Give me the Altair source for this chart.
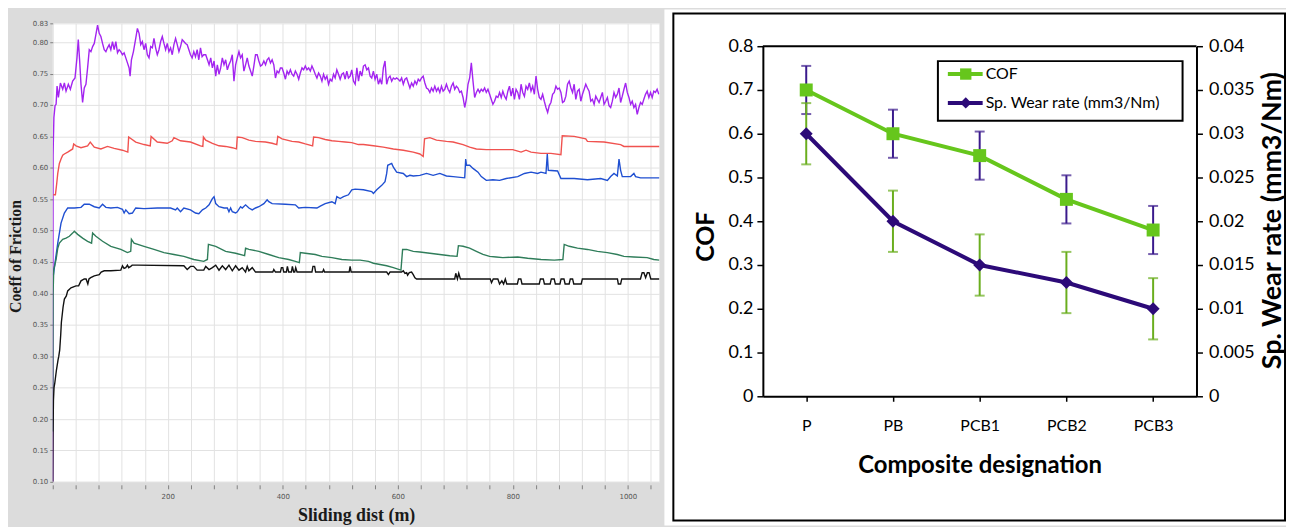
import altair as alt
import pandas as pd

# ---------------- Left panel: COF vs sliding distance ----------------
purple_dist = [
    0, 0.5, 2.0, 4.0, 5.8, 7.5, 9.8, 13.3, 17.3, 20.2,
    23.1, 27.1, 30.6, 34.6, 38.7, 42.1, 44.4, 46.8, 49.1, 51.9,
    54.8, 57.7, 60.6, 63.5, 66.4, 69.3, 72.2, 75.0, 77.9, 80.8,
    83.7, 86.6, 89.5, 92.4, 95.2, 98.1, 101.0, 103.9, 106.8, 109.7,
    112.6, 115.4, 118.3, 121.2, 124.1, 127.0, 129.9, 132.8, 134.5, 136.8,
    140.3, 144.3, 147.2, 150.1, 153.0, 155.8, 158.7, 161.6, 164.5, 167.4,
    170.3, 173.2, 176.0, 178.9, 181.8, 184.7, 187.6, 190.5, 193.4, 196.3,
    199.1, 202.0, 204.9, 207.8, 210.7, 213.6, 216.5, 219.4, 222.2, 225.1,
    228.0, 230.9, 233.8, 236.7, 239.5, 242.4, 245.3, 248.2, 251.1, 254.0,
    256.9, 259.7, 262.5, 266.0, 269.0, 271.8, 274.7, 277.6, 280.5, 283.4,
    286.2, 289.1, 292.0, 294.9, 297.8, 300.7, 303.6, 306.4, 309.3, 312.2,
    315.1, 318.0, 320.9, 323.8, 326.6, 329.5, 332.4, 335.3, 338.2, 341.1,
    344.0, 346.9, 349.7, 352.6, 355.5, 358.4, 361.3, 364.2, 367.1, 370.0,
    372.8, 375.7, 378.6, 381.5, 384.4, 387.3, 390.1, 393.0, 395.9, 398.8,
    401.7, 404.6, 407.5, 410.3, 413.2, 416.1, 419.0, 421.9, 424.8, 427.7,
    430.5, 433.4, 436.3, 439.2, 442.1, 445.0, 447.9, 450.7, 453.6, 456.5,
    459.4, 462.3, 465.2, 468.1, 470.9, 473.8, 476.7, 479.6, 482.5, 485.4,
    488.3, 491.1, 494.0, 496.9, 499.8, 502.7, 505.6, 508.5, 511.3, 514.2,
    517.1, 520.0, 522.9, 525.9, 528.8, 531.7, 534.5, 537.4, 540.3, 543.2,
    546.1, 549.0, 551.9, 554.7, 557.6, 560.5, 563.4, 566.3, 569.2, 572.1,
    574.9, 577.8, 580.7, 583.6, 586.5, 589.4, 592.3, 595.2, 598.0, 600.9,
    603.8, 606.7, 609.6, 612.5, 615.4, 618.2, 621.1, 624.0, 626.9, 629.8,
    632.7, 635.6, 638.4, 641.3, 644.2, 647.1, 650.0, 652.9, 655.8, 658.6,
    661.5, 664.4, 667.3, 670.2, 673.1, 676.0, 678.8, 681.7, 684.6, 687.5,
    690.4, 693.3, 696.2, 699.0, 701.9, 704.8, 707.7, 710.6, 713.5, 716.4,
    719.2, 722.1, 725.0, 727.9, 730.8, 733.7, 736.6, 739.5, 742.3, 745.2,
    748.1, 751.0, 753.9, 756.8, 759.7, 762.5, 765.4, 768.3, 771.2, 774.1,
    777.0, 779.9, 782.7, 785.6, 788.5, 791.4, 794.2, 797.1, 800.0, 802.8,
    805.7, 808.6, 811.5, 814.4, 817.3, 820.2, 823.0, 825.9, 828.8, 831.7,
    834.6, 837.5, 840.4, 843.2, 846.1, 849.0, 851.9, 854.8, 857.7, 860.6,
    863.4, 866.3, 869.2, 872.1, 875.0, 877.9, 880.8, 883.7, 886.5, 889.4,
    892.3, 895.2, 898.1, 901.0, 903.9, 906.7, 909.6, 912.5, 915.4, 918.3,
    921.2, 924.1, 926.9, 929.8, 932.7, 935.6, 938.5, 941.4, 944.3, 947.1,
    950.0, 952.9, 955.8, 958.7, 961.6, 964.5, 967.3, 970.2, 973.1, 976.0,
    978.9, 981.8, 984.7, 987.5, 990.4, 993.3, 996.2, 999.1, 1002.0, 1004.9,
    1007.7, 1010.6, 1013.5, 1016.4, 1019.3, 1022.2, 1025.1, 1027.9, 1030.8, 1033.7,
    1036.6, 1039.5, 1042.4, 1045.2, 1048.1, 1051.0, 1053.9,
]
purple_cof = [
    0.10, 0.62, 0.68, 0.699, 0.701, 0.730, 0.712, 0.735, 0.725, 0.735,
    0.722, 0.733, 0.725, 0.738, 0.743, 0.775, 0.804, 0.770, 0.733, 0.704,
    0.727, 0.733, 0.759, 0.788, 0.785, 0.793, 0.798, 0.812, 0.827, 0.814,
    0.809, 0.798, 0.788, 0.785, 0.791, 0.796, 0.788, 0.801, 0.788, 0.801,
    0.783, 0.788, 0.785, 0.780, 0.783, 0.775, 0.767, 0.759, 0.746, 0.772,
    0.785, 0.806, 0.822, 0.814, 0.796, 0.801, 0.788, 0.798, 0.780, 0.775,
    0.793, 0.791, 0.806, 0.791, 0.780, 0.788, 0.801, 0.809, 0.798, 0.788,
    0.798, 0.785, 0.791, 0.780, 0.796, 0.806, 0.796, 0.785, 0.793, 0.804,
    0.801, 0.798, 0.796, 0.788, 0.780, 0.775, 0.785, 0.777, 0.788, 0.772,
    0.791, 0.777, 0.780, 0.780, 0.772, 0.764, 0.775, 0.759, 0.770, 0.746,
    0.764, 0.749, 0.759, 0.775, 0.764, 0.772, 0.756, 0.764, 0.770, 0.780,
    0.738, 0.764, 0.775, 0.785, 0.775, 0.780, 0.754, 0.764, 0.775, 0.762,
    0.754, 0.746, 0.762, 0.780, 0.780, 0.770, 0.762, 0.764, 0.770, 0.764,
    0.772, 0.775, 0.767, 0.772, 0.764, 0.743, 0.754, 0.751, 0.759, 0.759,
    0.751, 0.741, 0.754, 0.749, 0.756, 0.749, 0.746, 0.754, 0.749, 0.741,
    0.751, 0.759, 0.756, 0.762, 0.756, 0.759, 0.754, 0.762, 0.756, 0.749,
    0.743, 0.751, 0.746, 0.738, 0.749, 0.741, 0.746, 0.733, 0.741, 0.738,
    0.749, 0.743, 0.756, 0.749, 0.741, 0.749, 0.751, 0.741, 0.754, 0.743,
    0.746, 0.756, 0.738, 0.733, 0.759, 0.738, 0.754, 0.746, 0.762, 0.764,
    0.756, 0.759, 0.746, 0.743, 0.754, 0.741, 0.749, 0.733, 0.741, 0.733,
    0.759, 0.770, 0.733, 0.743, 0.746, 0.738, 0.743, 0.741, 0.743, 0.741,
    0.738, 0.743, 0.733, 0.741, 0.743, 0.735, 0.727, 0.735, 0.730, 0.738,
    0.733, 0.741, 0.738, 0.743, 0.746, 0.735, 0.727, 0.725, 0.720, 0.727,
    0.722, 0.730, 0.722, 0.727, 0.720, 0.730, 0.722, 0.725, 0.733, 0.725,
    0.720, 0.730, 0.735, 0.725, 0.730, 0.727, 0.720, 0.722, 0.712, 0.696,
    0.709, 0.733, 0.743, 0.767, 0.738, 0.712, 0.720, 0.725, 0.720, 0.725,
    0.722, 0.727, 0.720, 0.725, 0.717, 0.709, 0.701, 0.706, 0.714, 0.712,
    0.720, 0.712, 0.722, 0.714, 0.709, 0.722, 0.730, 0.714, 0.727, 0.709,
    0.725, 0.720, 0.709, 0.733, 0.720, 0.714, 0.730, 0.725, 0.735, 0.722,
    0.730, 0.717, 0.746, 0.725, 0.712, 0.709, 0.717, 0.706, 0.696, 0.688,
    0.699, 0.704, 0.717, 0.720, 0.730, 0.725, 0.727, 0.720, 0.704, 0.706,
    0.714, 0.733, 0.738, 0.727, 0.720, 0.733, 0.709, 0.722, 0.725, 0.706,
    0.717, 0.725, 0.733, 0.727, 0.722, 0.706, 0.709, 0.701, 0.714, 0.709,
    0.704, 0.712, 0.720, 0.701, 0.706, 0.712, 0.699, 0.696, 0.706, 0.720,
    0.712, 0.717, 0.727, 0.704, 0.714, 0.725, 0.735, 0.720, 0.712, 0.701,
    0.706, 0.696, 0.701, 0.685, 0.696, 0.704, 0.701, 0.709, 0.717, 0.722,
    0.712, 0.720, 0.712, 0.722, 0.720, 0.725, 0.717,
]

red_dist = [
    1.0, 4.6, 6.9, 8.7, 11.5, 14.4, 17.3, 20.2, 26.0, 34.6,
    36.4, 40.4, 49.1, 60.6, 65.2, 72.2, 83.7, 95.2, 106.8, 121.2,
    130.5, 132.0, 144.3, 158.7, 169.5, 171.0, 181.8, 199.1, 207.8, 210.7,
    222.2, 239.5, 256.9, 261.0, 262.0, 266.0, 277.6, 289.1, 300.7, 312.2,
    319.5, 320.9, 329.5, 341.1, 352.6, 370.0, 381.5, 389.6, 391.3, 398.8,
    416.1, 427.7, 439.2, 451.9, 453.6, 462.3, 473.8, 485.4, 496.9, 508.5,
    520.0, 531.6, 540.3, 557.6, 574.9, 592.3, 609.6, 626.9, 638.4, 644.2,
    646.5, 655.8, 667.3, 684.6, 696.2, 713.5, 725.0, 736.6, 753.9, 771.2,
    800.0, 802.8, 814.4, 823.0, 831.7, 849.0, 866.3, 883.7, 886.0, 906.7,
    926.9, 929.8, 958.7, 987.5, 993.3, 1022.2, 1055.0,
]
red_cof = [
    0.557, 0.557, 0.575, 0.591, 0.607, 0.614, 0.620, 0.622, 0.625, 0.630,
    0.638, 0.635, 0.632, 0.635, 0.641, 0.633, 0.630, 0.634, 0.631, 0.628,
    0.625, 0.649, 0.641, 0.637, 0.635, 0.650, 0.641, 0.639, 0.643, 0.648,
    0.643, 0.641, 0.635, 0.634, 0.649, 0.644, 0.639, 0.635, 0.634, 0.632,
    0.630, 0.649, 0.648, 0.644, 0.642, 0.641, 0.639, 0.637, 0.650, 0.646,
    0.642, 0.641, 0.638, 0.635, 0.649, 0.648, 0.645, 0.643, 0.642, 0.641,
    0.640, 0.637, 0.637, 0.635, 0.633, 0.630, 0.628, 0.625, 0.622, 0.618,
    0.646, 0.648, 0.644, 0.642, 0.641, 0.637, 0.633, 0.630, 0.629, 0.629,
    0.629, 0.628, 0.625, 0.628, 0.625, 0.623, 0.623, 0.621, 0.651, 0.650,
    0.646, 0.642, 0.641, 0.637, 0.634, 0.634, 0.634,
]

blue_dist = [
    0.0, 1.2, 4.0, 8.7, 14.4, 20.2, 26.0, 37.5, 49.1, 54.8,
    63.5, 72.2, 80.8, 86.6, 92.4, 101.0, 112.6, 121.2, 124.1, 127.0,
    132.8, 138.5, 144.3, 158.7, 181.8, 204.9, 213.6, 216.5, 222.2, 228.0,
    239.5, 248.2, 254.0, 260.3, 266.0, 271.8, 277.6, 280.5, 283.4, 289.1,
    297.8, 303.6, 306.4, 309.3, 312.2, 318.0, 320.9, 326.6, 329.5, 335.3,
    341.1, 346.9, 352.6, 358.4, 367.1, 372.8, 375.7, 381.5, 404.6, 421.9,
    427.7, 439.2, 459.4, 465.2, 473.8, 485.4, 491.1, 494.0, 499.8, 505.6,
    514.2, 520.0, 525.8, 540.3, 554.7, 557.6, 563.4, 572.1, 577.8, 580.7,
    582.5, 589.4, 592.3, 598.0, 609.6, 615.4, 621.1, 626.9, 638.4, 650.0,
    661.5, 673.1, 684.6, 696.2, 716.4, 718.1, 719.5, 725.0, 730.8, 739.5,
    745.2, 753.9, 765.4, 777.0, 788.5, 808.6, 820.2, 831.7, 843.2, 849.0,
    857.7, 860.0, 861.7, 877.9, 883.7, 906.7, 929.8, 952.9, 964.5, 970.2,
    976.0, 981.8, 984.7, 987.5, 990.4, 1004.9, 1010.6, 1013.5, 1022.2, 1055.0,
]
blue_cof = [
    0.430, 0.430, 0.449, 0.480, 0.512, 0.528, 0.536, 0.536, 0.537, 0.542,
    0.542, 0.538, 0.536, 0.542, 0.537, 0.536, 0.537, 0.534, 0.528, 0.533,
    0.527, 0.528, 0.536, 0.535, 0.536, 0.536, 0.533, 0.536, 0.530, 0.536,
    0.533, 0.528, 0.527, 0.533, 0.536, 0.541, 0.551, 0.554, 0.543, 0.538,
    0.536, 0.536, 0.530, 0.536, 0.530, 0.528, 0.530, 0.538, 0.536, 0.541,
    0.536, 0.533, 0.536, 0.538, 0.543, 0.549, 0.546, 0.543, 0.542, 0.541,
    0.536, 0.537, 0.536, 0.539, 0.543, 0.546, 0.543, 0.554, 0.551, 0.554,
    0.557, 0.565, 0.566, 0.565, 0.562, 0.559, 0.565, 0.572, 0.578, 0.591,
    0.604, 0.607, 0.601, 0.593, 0.591, 0.586, 0.588, 0.587, 0.588, 0.591,
    0.588, 0.591, 0.587, 0.586, 0.584, 0.614, 0.604, 0.604, 0.599, 0.593,
    0.586, 0.580, 0.581, 0.580, 0.583, 0.586, 0.591, 0.593, 0.591, 0.593,
    0.591, 0.622, 0.596, 0.595, 0.583, 0.583, 0.581, 0.583, 0.580, 0.586,
    0.591, 0.587, 0.614, 0.596, 0.586, 0.586, 0.591, 0.586, 0.584, 0.584,
]

green_dist = [
    0.0, 0.6, 1.7, 5.8, 8.7, 11.5, 17.3, 23.1, 28.9, 34.6,
    37.5, 43.3, 51.9, 60.6, 67.5, 69.3, 75.0, 86.6, 101.0, 118.3,
    129.9, 135.6, 136.8, 141.4, 158.7, 176.0, 193.4, 210.7, 228.0, 245.3,
    262.6, 268.9, 270.7, 283.4, 300.7, 318.0, 333.6, 335.3, 341.1, 358.4,
    375.7, 393.0, 410.3, 421.9, 428.8, 430.5, 439.2, 456.5, 468.1, 485.4,
    502.7, 520.0, 534.5, 549.0, 557.6, 569.2, 580.7, 592.3, 605.5, 608.4,
    615.4, 626.9, 638.4, 655.8, 673.1, 690.4, 703.1, 705.4, 713.5, 725.0,
    736.6, 748.1, 759.7, 771.2, 782.7, 808.6, 825.9, 849.0, 872.1, 887.1,
    889.4, 898.1, 912.5, 929.8, 947.1, 964.5, 981.8, 993.3, 1010.6, 1033.7,
    1045.2, 1055.0,
]
green_cof = [
    0.18, 0.40, 0.438, 0.454, 0.472, 0.480, 0.486, 0.488, 0.491, 0.496,
    0.499, 0.494, 0.488, 0.483, 0.480, 0.496, 0.491, 0.483, 0.475, 0.470,
    0.465, 0.467, 0.486, 0.480, 0.475, 0.470, 0.465, 0.462, 0.459, 0.454,
    0.451, 0.454, 0.478, 0.475, 0.467, 0.464, 0.460, 0.472, 0.470, 0.467,
    0.462, 0.457, 0.454, 0.451, 0.449, 0.465, 0.464, 0.462, 0.459, 0.457,
    0.454, 0.453, 0.453, 0.451, 0.448, 0.446, 0.444, 0.441, 0.437, 0.470,
    0.470, 0.467, 0.466, 0.464, 0.462, 0.460, 0.459, 0.476, 0.475, 0.472,
    0.467, 0.462, 0.459, 0.458, 0.457, 0.458, 0.456, 0.454, 0.453, 0.454,
    0.478, 0.475, 0.472, 0.470, 0.467, 0.465, 0.462, 0.459, 0.458, 0.457,
    0.454, 0.453,
]

black_dist = [
    0.0, 0.4, 1.2, 2.2, 3.5, 6.4, 9.2, 10.5, 12.1, 13.9,
    15.0, 17.9, 20.2, 23.6, 26.0, 31.7, 40.4, 45.0, 49.1, 54.8,
    58.0, 61.0, 63.0, 66.0, 72.2, 80.8, 84.2, 89.5, 101.0, 118.3,
    121.2, 124.0, 127.0, 129.9, 132.0, 135.6, 138.0, 147.2, 228.0, 233.8,
    239.5, 245.0, 251.1, 262.6, 266.0, 271.8, 277.6, 283.4, 289.1, 294.9,
    300.7, 306.4, 312.2, 318.0, 323.8, 329.5, 335.3, 338.2, 341.1, 346.9,
    352.6, 382.6, 384.4, 387.3, 395.9, 397.6, 400.0, 401.7, 406.3, 408.0,
    410.3, 415.0, 416.7, 419.0, 420.8, 422.5, 424.8, 450.7, 452.5, 455.4,
    457.1, 469.2, 471.0, 472.7, 515.4, 517.1, 518.9, 580.7, 583.6, 586.5,
    606.7, 609.6, 612.5, 615.4, 617.1, 620.0, 624.0, 626.9, 629.8, 632.7,
    699.0, 700.8, 703.7, 706.0, 708.9, 760.8, 763.0, 766.0, 774.0, 777.0,
    781.0, 784.0, 787.0, 789.5, 808.0, 810.0, 814.0, 816.0, 846.0, 848.0,
    853.0, 855.0, 865.0, 867.0, 872.0, 874.0, 882.0, 884.0, 889.0, 891.0,
    898.0, 900.0, 904.0, 906.0, 919.0, 921.0, 982.0, 983.5, 987.5, 989.5,
    1022.0, 1025.0, 1028.0, 1031.0, 1034.0, 1037.0, 1040.0, 1055.0,
]
black_cof = [
    0.10, 0.17, 0.23, 0.25, 0.257, 0.278, 0.294, 0.300, 0.310, 0.335,
    0.354, 0.378, 0.391, 0.396, 0.404, 0.409, 0.412, 0.412, 0.420, 0.423,
    0.423, 0.415, 0.423, 0.425, 0.428, 0.430, 0.434, 0.436, 0.436, 0.437,
    0.444, 0.440, 0.441, 0.445, 0.441, 0.443, 0.445, 0.445, 0.444, 0.438,
    0.443, 0.443, 0.437, 0.437, 0.443, 0.438, 0.441, 0.445, 0.437, 0.444,
    0.438, 0.445, 0.436, 0.444, 0.437, 0.441, 0.434, 0.443, 0.436, 0.441,
    0.434, 0.434, 0.438, 0.434, 0.434, 0.441, 0.441, 0.434, 0.434, 0.443,
    0.434, 0.434, 0.443, 0.434, 0.434, 0.441, 0.434, 0.434, 0.443, 0.443,
    0.434, 0.434, 0.438, 0.434, 0.434, 0.443, 0.434, 0.434, 0.430, 0.434,
    0.434, 0.436, 0.432, 0.433, 0.429, 0.433, 0.434, 0.430, 0.425, 0.423,
    0.423, 0.432, 0.423, 0.432, 0.423, 0.423, 0.417, 0.423, 0.423, 0.415,
    0.420, 0.415, 0.423, 0.415, 0.415, 0.423, 0.423, 0.415, 0.415, 0.423,
    0.423, 0.415, 0.415, 0.423, 0.423, 0.415, 0.415, 0.423, 0.423, 0.415,
    0.415, 0.423, 0.423, 0.415, 0.415, 0.423, 0.423, 0.415, 0.415, 0.423,
    0.423, 0.433, 0.433, 0.425, 0.433, 0.433, 0.423, 0.423,
]

left_x_ticks = [0, 40, 80, 120, 160, 200, 240, 280, 320, 360, 400, 440, 480, 520,
                560, 600, 640, 680, 720, 760, 800, 840, 880, 920, 960, 1000, 1040]
left_y_ticks = [0.10, 0.15, 0.20, 0.25, 0.30, 0.35, 0.40, 0.45, 0.50, 0.55,
                0.60, 0.65, 0.70, 0.75, 0.80, 0.83]

# ---------------- Right panel: COF and specific wear rate ----------------
designations = ["P", "PB", "PCB1", "PCB2", "PCB3"]
cof_mean = [0.70, 0.60, 0.55, 0.45, 0.38]
cof_err = [0.055, 0.055, 0.055, 0.055, 0.055]
wear_rate = [0.030, 0.020, 0.015, 0.013, 0.010]
wear_err = [0.0035, 0.0035, 0.0035, 0.0035, 0.0035]
cof_ticks = [0, 0.1, 0.2, 0.3, 0.4, 0.5, 0.6, 0.7, 0.8]
wear_ticks = [0, 0.005, 0.01, 0.015, 0.02, 0.025, 0.03, 0.035, 0.04]
legend_labels = ["COF", "Sp. Wear rate (mm3/Nm)"]

# ---------------- styling ----------------
LEFT_W, LEFT_H = 610, 461
RIGHT_W, RIGHT_H = 436, 375
R_RANGE = [375, 23]
SERIF = "Liberation Serif"
SANS = "Lato"
GRAY_BG = "#dcdcdc"
GRID = "#e2e2e2"
sample_names = ["Sample A", "Sample B", "Sample C", "Sample D", "Sample E"]
sample_colors = ["#a324f0", "#f0524f", "#1f4fd1", "#2f7d5a", "#111111"]
GREEN = "#66c61c"
NAVY = "#2c0a78"
ERR_NAVY = "#3a1a8c"
ERR_GREEN = "#6aae1e"

records = []
for name, xs, ys in zip(
    sample_names,
    [purple_dist, red_dist, blue_dist, green_dist, black_dist],
    [purple_cof, red_cof, blue_cof, green_cof, black_cof],
):
    assert len(xs) == len(ys), name
    for i, (d, c) in enumerate(zip(xs, ys)):
        records.append({"sample": name, "dist": d, "cof": c, "idx": i})
left_df = pd.DataFrame(records)
one = pd.DataFrame({"k": [0]})

x_left = alt.X(
    "dist:Q",
    scale=alt.Scale(domain=[0, 1055], nice=False, zero=False),
    axis=alt.Axis(
        values=left_x_ticks, format="d",
        labelExpr="datum.value % 200 === 0 && datum.value > 0 ? datum.label : ''",
        labelFont="DejaVu Sans", labelFontSize=7, labelColor="#555555", labelPadding=4,
        labelOverlap=False, labelFlush=False,
        tickSize=4, tickColor="#808080", domain=False, offset=3,
        grid=True, gridColor=GRID, gridWidth=1,
        title="Sliding dist (m)", titleFont=SERIF, titleFontSize=18, titleFontWeight="bold",
        titleColor="#1a1a1a", titleX=LEFT_W / 2, titleY=31, titleAlign="center",
        titleBaseline="middle",
    ),
)
y_left = alt.Y(
    "cof:Q",
    scale=alt.Scale(domain=[0.10, 0.83], nice=False, zero=False),
    axis=alt.Axis(
        values=left_y_ticks, format=".2f",
        labelFont="DejaVu Sans", labelFontSize=7, labelColor="#555555", labelPadding=2,
        labelOverlap=False, labelFlush=False,
        tickSize=3, tickColor="#808080", domain=False,
        grid=True, gridColor=GRID, gridWidth=1,
        title="Coeff of Friction", titleFont=SERIF, titleFontSize=16, titleFontWeight="bold",
        titleColor="#1a1a1a", titleAngle=270, titleX=-37, titleY=234, titleAlign="center",
        titleBaseline="middle",
    ),
)

left_anchor = alt.Chart(one).mark_rect(color=GRAY_BG).encode(
    x=alt.value(-45), x2=alt.value(-44), y=alt.value(200), y2=alt.value(201)
)
left_lines = alt.Chart(left_df).mark_line(strokeWidth=1.4, clip=True).encode(
    x=x_left,
    y=y_left,
    color=alt.Color("sample:N", scale=alt.Scale(domain=sample_names, range=sample_colors), legend=None),
    order=alt.Order("idx:Q"),
)
left = alt.layer(left_anchor, left_lines).properties(width=LEFT_W, height=LEFT_H)

# ---------------- right panel ----------------
right_df = pd.DataFrame({
    "designation": designations,
    "cof": cof_mean,
    "cof_lo": [m - e for m, e in zip(cof_mean, cof_err)],
    "cof_hi": [m + e for m, e in zip(cof_mean, cof_err)],
    "wear": wear_rate,
    "wear_lo": [m - e for m, e in zip(wear_rate, wear_err)],
    "wear_hi": [m + e for m, e in zip(wear_rate, wear_err)],
})

x_right = alt.X(
    "designation:N",
    scale=alt.Scale(type="point", domain=designations, padding=0.5),
    axis=alt.Axis(
        labelFont=SANS, labelFontSize=16, labelColor="black", labelAngle=0, labelPadding=16,
        tickSize=5, tickColor="black", tickWidth=1.5, domainColor="black", domainWidth=2,
        title="Composite designation", titleFont=SANS, titleFontSize=24, titleFontWeight="bold",
        titleColor="black", titleY=70, titleBaseline="middle", zindex=1,
    ),
)
cof_axis = alt.Axis(
    values=cof_ticks, format="~g",
    labelFont=SANS, labelFontSize=18, labelColor="black", labelPadding=4,
    tickSize=6, tickColor="black", tickWidth=1.5, domainColor="black", domainWidth=2, grid=False,
    title="COF", titleFont=SANS, titleFontSize=25, titleFontWeight="bold", titleColor="black",
    titleAngle=270, titleX=-58, titleY=214, titleAlign="center", titleBaseline="middle", zindex=1,
)
wear_axis = alt.Axis(
    orient="right", values=wear_ticks, format="~g",
    labelFont=SANS, labelFontSize=18, labelColor="black", labelPadding=6,
    tickSize=6, tickColor="black", tickWidth=1.5, domainColor="black", domainWidth=2, grid=False,
    title="Sp. Wear rate (mm3/Nm)", titleFont=SANS, titleFontSize=27, titleFontWeight="bold",
    titleColor="black", titleAngle=270, titleX=76, titleY=198, titleAlign="center",
    titleBaseline="middle", zindex=1,
)
cof_scale = alt.Scale(domain=[0, 0.8], range=R_RANGE, nice=False, zero=True)
wear_scale = alt.Scale(domain=[0, 0.04], range=R_RANGE, nice=False, zero=True)


def y_cof(field):
    return alt.Y(f"{field}:Q", scale=cof_scale, axis=cof_axis)


def y_wear(field):
    return alt.Y(f"{field}:Q", scale=wear_scale, axis=wear_axis)


cover = alt.Chart(one).mark_rect(color="white").encode(
    x=alt.value(-99), x2=alt.value(526), y=alt.value(-14), y2=alt.value(505)
)
box = alt.Chart(one).mark_rect(fill="white", stroke="black", strokeWidth=2).encode(
    x=alt.value(-90), x2=alt.value(525), y=alt.value(-10), y2=alt.value(500)
)
top_border = alt.Chart(one).mark_rule(color="black", strokeWidth=2).encode(
    x=alt.value(0), x2=alt.value(RIGHT_W), y=alt.value(R_RANGE[1])
)

base_r = alt.Chart(right_df)
cof_rule = base_r.mark_rule(color=ERR_NAVY, strokeWidth=2).encode(
    x=x_right, y=y_cof("cof_lo"), y2=alt.Y2("cof_hi:Q")
)
cof_cap_hi = base_r.mark_tick(color=ERR_NAVY, orient="horizontal", size=10, thickness=2).encode(
    x=x_right, y=y_cof("cof_hi")
)
cof_cap_lo = base_r.mark_tick(color=ERR_NAVY, orient="horizontal", size=10, thickness=2).encode(
    x=x_right, y=y_cof("cof_lo")
)
cof_line = base_r.mark_line(color=GREEN, strokeWidth=4).encode(x=x_right, y=y_cof("cof"))
cof_pts = base_r.mark_point(shape="square", filled=True, size=170, color=GREEN, opacity=1).encode(
    x=x_right, y=y_cof("cof")
)

wear_rule = base_r.mark_rule(color=ERR_GREEN, strokeWidth=2).encode(
    x=x_right, y=y_wear("wear_lo"), y2=alt.Y2("wear_hi:Q")
)
wear_cap_hi = base_r.mark_tick(color=ERR_GREEN, orient="horizontal", size=10, thickness=2).encode(
    x=x_right, y=y_wear("wear_hi")
)
wear_cap_lo = base_r.mark_tick(color=ERR_GREEN, orient="horizontal", size=10, thickness=2).encode(
    x=x_right, y=y_wear("wear_lo")
)
wear_line = base_r.mark_line(color=NAVY, strokeWidth=4).encode(x=x_right, y=y_wear("wear"))
wear_pts = base_r.mark_point(shape="diamond", filled=True, size=170, color=NAVY, opacity=1).encode(
    x=x_right, y=y_wear("wear")
)

# legend (drawn as marks, inside the plot)
leg_box = alt.Chart(one).mark_rect(fill="white", stroke="black", strokeWidth=2).encode(
    x=alt.value(176), x2=alt.value(422), y=alt.value(38), y2=alt.value(98)
)
leg_line1 = alt.Chart(one).mark_rule(color=GREEN, strokeWidth=4).encode(
    x=alt.value(186), x2=alt.value(221), y=alt.value(51)
)
leg_pt1 = alt.Chart(one).mark_point(shape="square", filled=True, size=130, color=GREEN, opacity=1).encode(
    x=alt.value(204), y=alt.value(51)
)
leg_txt1 = alt.Chart(one).mark_text(align="left", baseline="middle", font=SANS, fontSize=16, color="black").encode(
    x=alt.value(224), y=alt.value(51), text=alt.value(legend_labels[0])
)
leg_line2 = alt.Chart(one).mark_rule(color=NAVY, strokeWidth=4).encode(
    x=alt.value(186), x2=alt.value(221), y=alt.value(80)
)
leg_pt2 = alt.Chart(one).mark_point(shape="diamond", filled=True, size=130, color=NAVY, opacity=1).encode(
    x=alt.value(204), y=alt.value(80)
)
leg_txt2 = alt.Chart(one).mark_text(align="left", baseline="middle", font=SANS, fontSize=16, color="black").encode(
    x=alt.value(224), y=alt.value(80), text=alt.value(legend_labels[1])
)

layer_cof = alt.layer(cover, box, top_border, cof_rule, cof_cap_hi, cof_cap_lo, cof_line, cof_pts)
layer_wear = alt.layer(wear_rule, wear_cap_hi, wear_cap_lo, wear_line, wear_pts,
                       leg_box, leg_line1, leg_pt1, leg_txt1, leg_line2, leg_pt2, leg_txt2)
right = alt.layer(layer_cof, layer_wear).resolve_scale(y="independent").properties(
    width=RIGHT_W, height=RIGHT_H
)

chart = (
    alt.hconcat(left, right, spacing=104, bounds="flush")
    .properties(padding=0, background=GRAY_BG)
    .configure_view(fill="white", strokeWidth=0)
)

chart.save("out.html", embed_options={"renderer": "svg", "actions": False})
